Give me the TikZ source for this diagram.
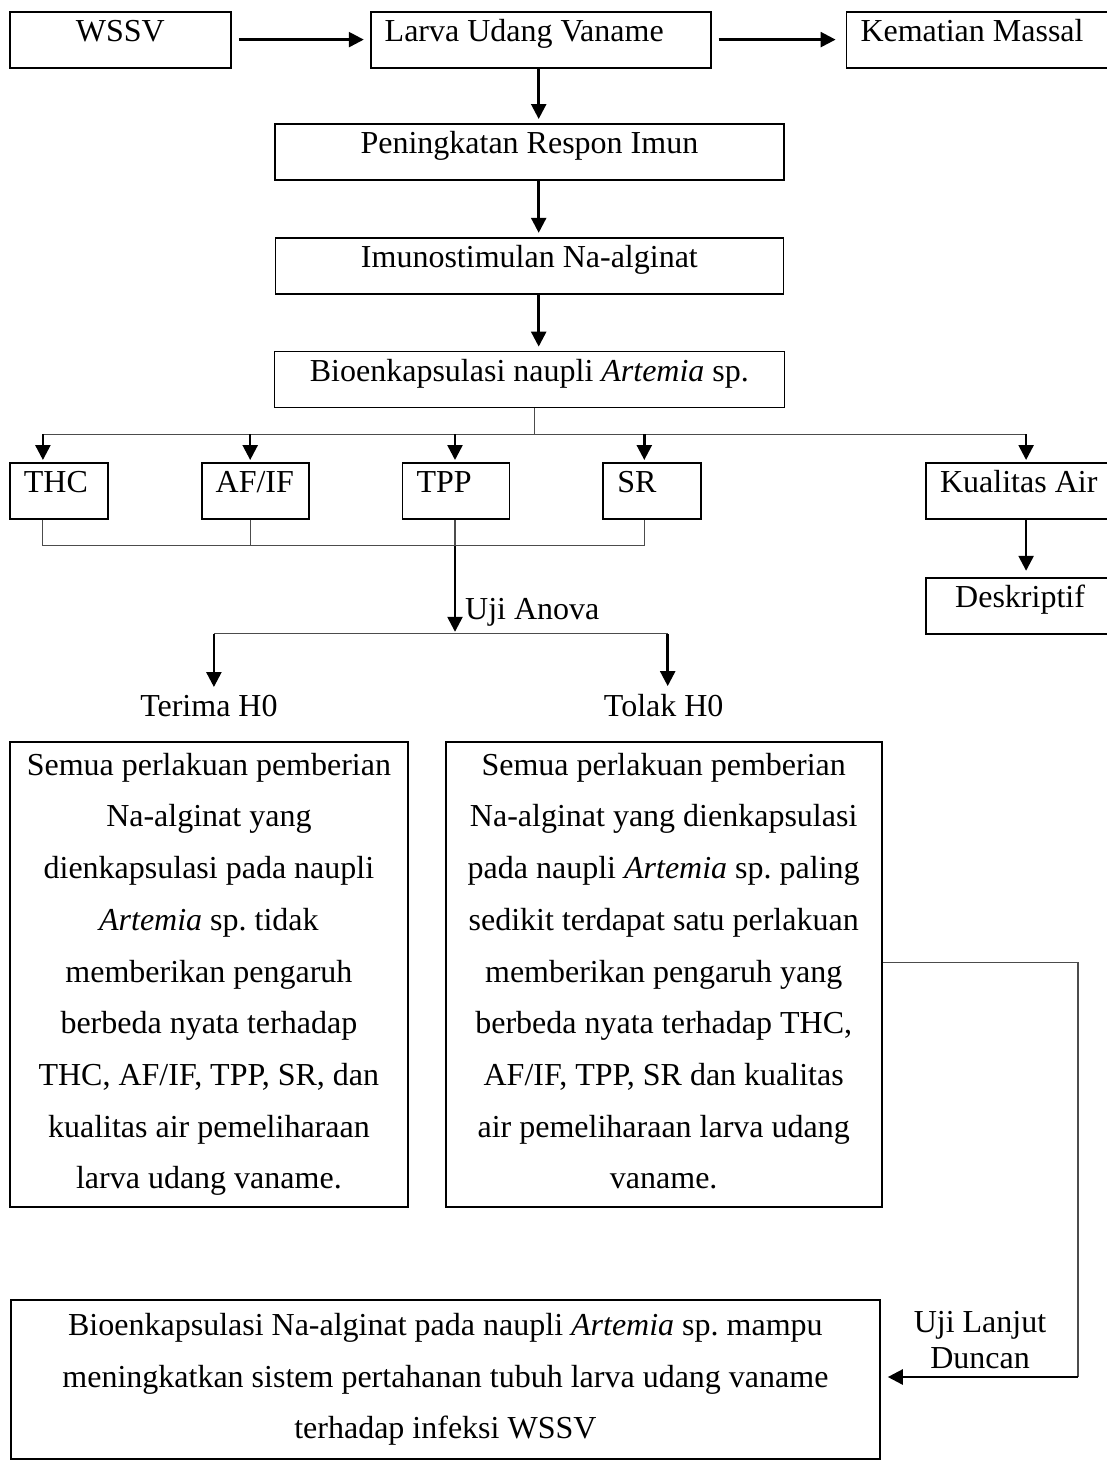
\documentclass[tikz,border=0pt]{standalone}
\usepackage{fontspec}
\setmainfont{Liberation Serif}
\usetikzlibrary{positioning,arrows.meta}

\begin{document}
\begin{tikzpicture}[
    x=1pt, y=-1pt,
    >={Triangle[length=15pt,width=15pt]},
    box/.style={
      draw,
      line width=1.8pt,
      inner sep=0pt,
      text height=30pt,
      text depth=26pt,
      font=\fontsize{32}{51.7}\selectfont
    },
    lbox/.style={
      box,
      inner xsep=14pt,
      text width=#1,
      align=flush left
    },
    bigbox/.style={
      draw,
      line width=1.8pt,
      inner sep=0pt,
      align=center,
      font=\fontsize{32}{51.7}\selectfont
    },
    lbl/.style={inner sep=0pt, font=\fontsize{32}{36}\selectfont},
    arr/.style={->, line width=2.5pt},
    link/.style={line width=1.1pt, black!70}
  ]
    \useasboundingbox (0,0) rectangle (1107,1462);

    \node[box, anchor=north west, minimum width=221pt] (wssv) at (9,11) {WSSV};
    \node[lbox=312pt, right=138pt of wssv] (larva) {Larva Udang Vaname};
    \node[lbox=236pt, right=134pt of larva] (kematian) {Kematian Massal};

    \node[box, anchor=north west, minimum width=509pt] (respon) at (274,123) {Peningkatan Respon Imun};
    \node[box, below=56pt of respon, minimum width=508pt] (imuno) {Imunostimulan Na-alginat};
    \node[box, below=56pt of imuno, minimum width=510pt] (bioenk) {Bioenkapsulasi naupli \textit{Artemia} sp.};

    \node[lbox=70pt, anchor=north west] (thc) at (9,462) {THC};
    \node[lbox=79pt, right=92pt of thc] (afif) {AF/IF};
    \node[lbox=79pt, right=92pt of afif] (tpp) {TPP};
    \node[lbox=70pt, right=92pt of tpp] (sr) {SR};
    \node[lbox=160pt, right=223pt of sr] (air) {Kualitas Air};
    \node[box, below=57pt of air, minimum width=188pt] (deskriptif) {Deskriptif};

    \node[lbl, anchor=west] (anova) at (465,612) {Uji Anova};

    \node[bigbox, anchor=north west, minimum width=398pt, minimum height=465pt] (terima) at (9,741)
      {Semua perlakuan pemberian\\Na-alginat yang\\dienkapsulasi pada naupli\\\textit{Artemia} sp.\ tidak\\memberikan pengaruh\\berbeda nyata terhadap\\THC, AF/IF, TPP, SR, dan\\kualitas air pemeliharaan\\larva udang vaname.};
    \node[bigbox, right=36pt of terima, minimum width=436pt, minimum height=465pt] (tolak)
      {Semua perlakuan pemberian\\Na-alginat yang dienkapsulasi\\pada naupli \textit{Artemia} sp.\ paling\\sedikit terdapat satu perlakuan\\memberikan pengaruh yang\\berbeda nyata terhadap THC,\\AF/IF, TPP, SR dan kualitas\\air pemeliharaan larva udang\\vaname.\vphantom{g}};
    \node[lbl, above=24pt of terima] (hterima) {Terima H0};
    \node[lbl, above=24pt of tolak] (htolak) {Tolak H0};

    \node[bigbox, anchor=north west, minimum width=869pt, minimum height=159pt] (simpulan) at (10,1299)
      {Bioenkapsulasi Na-alginat pada naupli \textit{Artemia} sp.\ mampu\\meningkatkan sistem pertahanan tubuh larva udang vaname\\terhadap infeksi WSSV};
    \node[lbl, align=center] (duncan) at (980,1340) {Uji Lanjut\\Duncan};

    \coordinate (spine) at ([xshift=-2pt]larva.south);
    \coordinate (split) at ([xshift=5pt, yshift=-26pt]bioenk.south);
    \coordinate (dthc) at ([xshift=-16pt]thc.north);
    \coordinate (dafif) at ([xshift=-5pt]afif.north);
    \coordinate (dtpp) at ([xshift=-1pt]tpp.north);
    \coordinate (dsr) at ([xshift=-8pt]sr.north);
    \coordinate (dair) at ([xshift=6pt]air.north);
    \coordinate (join) at ([yshift=-26pt]thc.south);
    \coordinate (branch) at ([yshift=-88pt]join);
    \coordinate (bterima) at ([xshift=5pt]hterima.north);
    \coordinate (btolak) at ([xshift=4pt]htolak.north);
    \coordinate (turn) at (1078,1377);

    \draw[arr] ([xshift=7pt]wssv.mid east) -- ([xshift=-6pt]larva.mid west);
    \draw[arr] ([xshift=7pt]larva.mid east) -- ([xshift=-10pt]kematian.mid west);
    \draw[arr, shorten >=4pt] (spine) -- (spine |- respon.north);
    \draw[arr, shorten >=4pt] (spine |- respon.south) -- (spine |- imuno.north);
    \draw[arr, shorten >=4pt] (spine |- imuno.south) -- (spine |- bioenk.north);

    \draw[link] ([xshift=5pt]bioenk.south) -- (split);
    \draw[link] (dthc |- split) -- (dair |- split);
    \draw[arr, shorten >=2pt] (dthc |- split) -- (dthc);
    \draw[arr, shorten >=2pt] (dafif |- split) -- (dafif);
    \draw[arr, shorten >=2pt] (dtpp |- split) -- (dtpp);
    \draw[arr, shorten >=2pt] (dsr |- split) -- (dsr);
    \draw[arr, shorten >=2pt] (dair |- split) -- (dair);
    \draw[arr, shorten >=6pt] (dair |- air.south) -- (dair |- deskriptif.north);

    \draw[link] (dthc |- thc.south) -- (dthc |- join) -- (dsr |- join) -- (dsr |- sr.south);
    \draw[link] (dafif |- afif.south) -- (dafif |- join);
    \draw[link] (dtpp |- tpp.south) -- (dtpp |- join);
    \draw[arr, shorten >=2pt] (dtpp |- join) -- (dtpp |- branch);

    \draw[link] (bterima |- branch) -- (btolak |- branch);
    \draw[arr, shorten >=8pt] (bterima |- branch) -- (bterima);
    \draw[arr, shorten >=8pt] (btolak |- branch) -- (btolak);

    \draw[link] ([yshift=12pt]tolak.east) -| (turn);
    \draw[arr, shorten >=7pt] (turn) -- (turn -| simpulan.east);
  \end{tikzpicture}
\end{document}
